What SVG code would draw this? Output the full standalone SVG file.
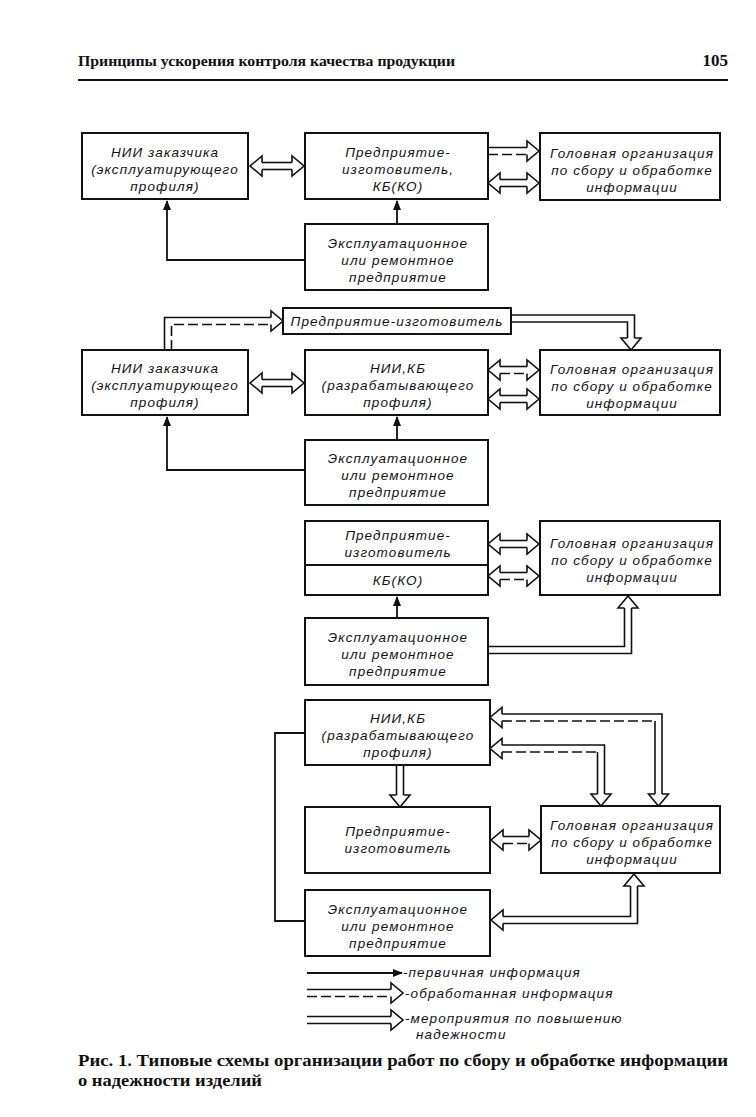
<svg xmlns="http://www.w3.org/2000/svg" width="756" height="1117" viewBox="0 0 756 1117">
<style>
.box{fill:#fff;stroke:#111;stroke-width:2}
.t{font-family:"Liberation Sans",Arial,sans-serif;font-style:italic;font-size:13.5px;letter-spacing:1.1px;text-anchor:middle;fill:#111}
.ln{fill:none;stroke:#111;stroke-width:1.6}
.dl{fill:none;stroke:#111;stroke-width:1.6;stroke-dasharray:10 4}
.hd{fill:none;stroke:#111;stroke-width:1.6;stroke-linejoin:miter}
.th{fill:none;stroke:#111;stroke-width:1.8}
.hdr{font-family:"Liberation Serif","Times New Roman",serif;font-weight:bold;fill:#111}
</style>
<defs>
<marker id="ar" markerWidth="10" markerHeight="8" refX="9" refY="4" orient="auto" markerUnits="userSpaceOnUse">
<path d="M0,0 L10,4 L0,8 Z" fill="#111"/>
</marker>
</defs>
<rect width="756" height="1117" fill="#fff"/>

<!-- header -->
<text class="hdr" x="78" y="66" font-size="14" textLength="377" lengthAdjust="spacingAndGlyphs">Принципы ускорения контроля качества продукции</text>
<text class="hdr" x="728" y="66" font-size="17" text-anchor="end">105</text>
<line x1="78" y1="80" x2="728" y2="80" stroke="#111" stroke-width="2"/>

<!-- ===== Section 1 ===== -->
<g id="s1-nii">
<rect class="box" x="82" y="133" width="166" height="66"/>
<text class="t" x="165" y="157">НИИ заказчика</text>
<text class="t" x="165" y="174">(эксплуатирующего</text>
<text class="t" x="165" y="191">профиля)</text>
</g>
<g id="s1-pred">
<rect class="box" x="305" y="133" width="183" height="66"/>
<text class="t" x="398" y="157">Предприятие-</text>
<text class="t" x="398" y="174">изготовитель,</text>
<text class="t" x="398" y="191">КБ(КО)</text>
</g>
<g id="s1-head">
<rect class="box" x="540" y="133" width="180" height="67"/>
<text class="t" x="632" y="158">Головная организация</text>
<text class="t" x="632" y="175">по сбору и обработке</text>
<text class="t" x="632" y="192">информации</text>
</g>
<g id="s1-expl">
<rect class="box" x="305" y="224" width="183" height="66"/>
<text class="t" x="398" y="248">Эксплуатационное</text>
<text class="t" x="398" y="265">или ремонтное</text>
<text class="t" x="398" y="282">предприятие</text>
</g>

<!-- ===== Section 2 ===== -->
<g id="s2-pred">
<rect class="box" x="283" y="308" width="228" height="26"/>
<text class="t" x="397" y="326">Предприятие-изготовитель</text>
</g>
<g id="s2-nii">
<rect class="box" x="82" y="350" width="166" height="65"/>
<text class="t" x="165" y="373">НИИ заказчика</text>
<text class="t" x="165" y="390">(эксплуатирующего</text>
<text class="t" x="165" y="407">профиля)</text>
</g>
<g id="s2-kb">
<rect class="box" x="305" y="350" width="183" height="65"/>
<text class="t" x="398" y="373">НИИ,КБ</text>
<text class="t" x="398" y="390">(разрабатывающего</text>
<text class="t" x="398" y="407">профиля)</text>
</g>
<g id="s2-head">
<rect class="box" x="540" y="350" width="180" height="65"/>
<text class="t" x="632" y="374">Головная организация</text>
<text class="t" x="632" y="391">по сбору и обработке</text>
<text class="t" x="632" y="408">информации</text>
</g>
<g id="s2-expl">
<rect class="box" x="305" y="440" width="183" height="65"/>
<text class="t" x="398" y="463">Эксплуатационное</text>
<text class="t" x="398" y="480">или ремонтное</text>
<text class="t" x="398" y="497">предприятие</text>
</g>

<!-- ===== Section 3 ===== -->
<g id="s3-pred">
<rect class="box" x="305" y="521" width="183" height="74"/>
<line x1="305" y1="565" x2="488" y2="565" stroke="#111" stroke-width="2"/>
<text class="t" x="398" y="540">Предприятие-</text>
<text class="t" x="398" y="557">изготовитель</text>
<text class="t" x="398" y="585">КБ(КО)</text>
</g>
<g id="s3-head">
<rect class="box" x="540" y="521" width="180" height="74"/>
<text class="t" x="632" y="548">Головная организация</text>
<text class="t" x="632" y="565">по сбору и обработке</text>
<text class="t" x="632" y="582">информации</text>
</g>
<g id="s3-expl">
<rect class="box" x="305" y="618" width="183" height="67"/>
<text class="t" x="398" y="642">Эксплуатационное</text>
<text class="t" x="398" y="659">или ремонтное</text>
<text class="t" x="398" y="676">предприятие</text>
</g>

<!-- ===== Section 4 ===== -->
<g id="s4-kb">
<rect class="box" x="305" y="700" width="185" height="65"/>
<text class="t" x="398" y="723">НИИ,КБ</text>
<text class="t" x="398" y="740">(разрабатывающего</text>
<text class="t" x="398" y="757">профиля)</text>
</g>
<g id="s4-pred">
<rect class="box" x="305" y="807" width="185" height="66"/>
<text class="t" x="398" y="836">Предприятие-</text>
<text class="t" x="398" y="853">изготовитель</text>
</g>
<g id="s4-head">
<rect class="box" x="541" y="806" width="179" height="67"/>
<text class="t" x="632" y="830">Головная организация</text>
<text class="t" x="632" y="847">по сбору и обработке</text>
<text class="t" x="632" y="864">информации</text>
</g>
<g id="s4-expl">
<rect class="box" x="305" y="890" width="185" height="66"/>
<text class="t" x="398" y="914">Эксплуатационное</text>
<text class="t" x="398" y="931">или ремонтное</text>
<text class="t" x="398" y="948">предприятие</text>
</g>

<!-- ===== Connectors ===== -->
<g id="connectors">
<!-- S1: NII <-> Pred -->
<polyline class="hd" points="262,162.5 262,156 250,166 262,176 262,169.5"/>
<polyline class="hd" points="292,162.5 292,156 304,166 292,176 292,169.5"/>
<line class="ln" x1="262" y1="162.5" x2="292" y2="162.5"/>
<line class="ln" x1="262" y1="169.5" x2="292" y2="169.5"/>
<!-- S1: Pred -> Head (processed) -->
<line class="ln" x1="488" y1="147.5" x2="527" y2="147.5"/>
<line class="dl" x1="488" y1="154.5" x2="527" y2="154.5"/>
<polyline class="hd" points="527,147.5 527,141 539,151 527,161 527,154.5"/>
<!-- S1: Pred <-> Head -->
<polyline class="hd" points="500,179.5 500,173 488,183 500,193 500,186.5"/>
<polyline class="hd" points="527,179.5 527,173 539,183 527,193 527,186.5"/>
<line class="ln" x1="500" y1="179.5" x2="527" y2="179.5"/>
<line class="ln" x1="500" y1="186.5" x2="527" y2="186.5"/>
<!-- S1: Expl -> Pred, Expl -> NII -->
<line class="th" x1="397" y1="224" x2="397" y2="201" marker-end="url(#ar)"/>
<polyline class="th" points="305,260 167,260 167,201" marker-end="url(#ar)"/>

<!-- S2: NII -> Pred (processed) -->
<polyline class="ln" points="164.5,350 164.5,317.5 271,317.5"/>
<polyline class="dl" points="171.5,350 171.5,324.5 271,324.5"/>
<polyline class="hd" points="271,317.5 271,311 283,321 271,331 271,324.5"/>
<!-- S2: Pred -> Head -->
<polyline class="ln" points="511,315 634.5,315 634.5,338"/>
<polyline class="ln" points="511,322 627.5,322 627.5,338"/>
<polyline class="hd" points="627.5,338 621,338 631,350 641,338 634.5,338"/>
<!-- S2: NII <-> KB -->
<polyline class="hd" points="262,379.5 262,373 250,383 262,393 262,386.5"/>
<polyline class="hd" points="292,379.5 292,373 304,383 292,393 292,386.5"/>
<line class="ln" x1="262" y1="379.5" x2="292" y2="379.5"/>
<line class="ln" x1="262" y1="386.5" x2="292" y2="386.5"/>
<!-- S2: KB <-> Head (processed) -->
<polyline class="hd" points="500,366.5 500,360 488,370 500,380 500,373.5"/>
<polyline class="hd" points="527,366.5 527,360 539,370 527,380 527,373.5"/>
<line class="ln" x1="500" y1="366.5" x2="527" y2="366.5"/>
<line class="dl" x1="500" y1="373.5" x2="527" y2="373.5" stroke-dasharray="7 3"/>
<!-- S2: KB <-> Head -->
<polyline class="hd" points="500,395.5 500,389 488,399 500,409 500,402.5"/>
<polyline class="hd" points="527,395.5 527,389 539,399 527,409 527,402.5"/>
<line class="ln" x1="500" y1="395.5" x2="527" y2="395.5"/>
<line class="ln" x1="500" y1="402.5" x2="527" y2="402.5"/>
<!-- S2: Expl -> KB, Expl -> NII -->
<line class="th" x1="397" y1="440" x2="397" y2="417" marker-end="url(#ar)"/>
<polyline class="th" points="305,470 167,470 167,417" marker-end="url(#ar)"/>

<!-- S3: Pred <-> Head -->
<polyline class="hd" points="500,540.5 500,534 488,544 500,554 500,547.5"/>
<polyline class="hd" points="527,540.5 527,534 539,544 527,554 527,547.5"/>
<line class="ln" x1="500" y1="540.5" x2="527" y2="540.5"/>
<line class="ln" x1="500" y1="547.5" x2="527" y2="547.5"/>
<!-- S3: KB <-> Head (processed) -->
<polyline class="hd" points="500,572.5 500,566 488,576 500,586 500,579.5"/>
<polyline class="hd" points="527,572.5 527,566 539,576 527,586 527,579.5"/>
<line class="ln" x1="500" y1="572.5" x2="527" y2="572.5"/>
<line class="dl" x1="500" y1="579.5" x2="527" y2="579.5" stroke-dasharray="7 3"/>
<!-- S3: Expl -> KB -->
<line class="th" x1="397" y1="618" x2="397" y2="597" marker-end="url(#ar)"/>
<!-- S3: Expl -> Head -->
<polyline class="ln" points="488,646.5 624.5,646.5 624.5,608"/>
<polyline class="ln" points="488,653.5 631.5,653.5 631.5,608"/>
<polyline class="hd" points="624.5,608 618,608 628,596 638,608 631.5,608"/>

<!-- S4: KB -> Pred -->
<line class="ln" x1="396.5" y1="765" x2="396.5" y2="795"/>
<line class="ln" x1="403.5" y1="765" x2="403.5" y2="795"/>
<polyline class="hd" points="396.5,795 390,795 400,807 410,795 403.5,795"/>
<!-- S4: Head <-> KB outer (processed) -->
<polyline class="hd" points="502,714 502,707.5 490,717.5 502,727.5 502,721"/>
<polyline class="ln" points="502,714 662,714 662,794"/>
<line class="dl" x1="502" y1="721" x2="655" y2="721"/>
<line class="ln" x1="655" y1="721" x2="655" y2="794"/>
<polyline class="hd" points="655,794 648.5,794 658.5,806 668.5,794 662,794"/>
<!-- S4: Head <-> KB inner (processed) -->
<polyline class="hd" points="502,745 502,738.5 490,748.5 502,758.5 502,752"/>
<polyline class="ln" points="502,745 604.5,745 604.5,794"/>
<line class="dl" x1="502" y1="752" x2="597.5" y2="752" stroke-dasharray="16 6"/>
<line class="ln" x1="597.5" y1="752" x2="597.5" y2="794"/>
<polyline class="hd" points="597.5,794 591,794 601,806 611,794 604.5,794"/>
<!-- S4: Pred <-> Head (processed) -->
<polyline class="hd" points="503,836.5 503,830 491,840 503,850 503,843.5"/>
<polyline class="hd" points="529,836.5 529,830 541,840 529,850 529,843.5"/>
<line class="ln" x1="503" y1="836.5" x2="529" y2="836.5"/>
<line class="dl" x1="503" y1="843.5" x2="529" y2="843.5" stroke-dasharray="7 3"/>
<!-- S4: Head <-> Expl -->
<polyline class="hd" points="630.5,886 624,886 634,874 644,886 637.5,886"/>
<polyline class="ln" points="630.5,886 630.5,916.5 503,916.5"/>
<polyline class="ln" points="637.5,886 637.5,923.5 503,923.5"/>
<polyline class="hd" points="503,916.5 503,910 491,920 503,930 503,923.5"/>
<!-- S4: KB - Expl line -->
<polyline class="th" points="305,733 275,733 275,921 305,921"/>
</g>

<!-- ===== Legend ===== -->
<g id="legend">
<line class="th" x1="307" y1="973" x2="402" y2="973" marker-end="url(#ar)"/>
<text class="t" x="403" y="977" text-anchor="start" style="text-anchor:start">-первичная информация</text>
<line class="ln" x1="307" y1="989.5" x2="391" y2="989.5"/>
<line class="dl" x1="307" y1="996.5" x2="391" y2="996.5" stroke-dasharray="12 4"/>
<polyline class="hd" points="391,989.5 391,983 403,993 391,1003 391,996.5"/>
<text class="t" x="405" y="998" style="text-anchor:start">-обработанная информация</text>
<line class="ln" x1="307" y1="1016.5" x2="391" y2="1016.5"/>
<line class="ln" x1="307" y1="1023.5" x2="391" y2="1023.5"/>
<polyline class="hd" points="391,1016.5 391,1010 403,1020 391,1030 391,1023.5"/>
<text class="t" x="405" y="1023" style="text-anchor:start">-мероприятия по повышению</text>
<text class="t" x="416" y="1039" style="text-anchor:start">надежности</text>
</g>

<!-- caption -->
<text class="hdr" x="78" y="1066" font-size="16.5" textLength="650" lengthAdjust="spacingAndGlyphs">Рис. 1. Типовые схемы организации работ по сбору и обработке информации</text>
<text class="hdr" x="78" y="1086" font-size="16.5" textLength="184" lengthAdjust="spacingAndGlyphs">о надежности изделий</text>
</svg>
